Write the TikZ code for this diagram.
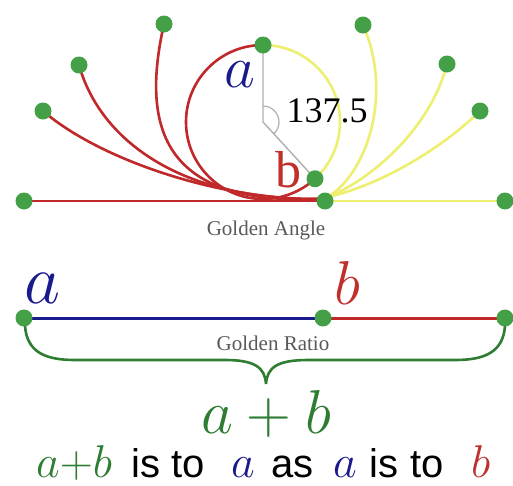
\RequirePackage{fix-cm}
\documentclass[tikz,border=0pt]{standalone}
\usepackage{fontspec}
\usetikzlibrary{calc}
\setmainfont{Liberation Serif}
\setsansfont{Liberation Sans}
\definecolor{dotgreen}{HTML}{43A047}
\definecolor{lred}{HTML}{C0282A}
\definecolor{lyellow}{HTML}{EEEE70}
\definecolor{ablue}{HTML}{1A1A8C}
\definecolor{bred}{HTML}{C0302B}
\definecolor{tgreen}{HTML}{2E7D32}
\definecolor{lgray}{HTML}{B0B0B0}
\tikzset{
  dot/.style={circle,fill=dotgreen,inner sep=0pt,minimum size=17pt},
  redline/.style={draw=lred,line width=2.6pt,line cap=round},
  yelline/.style={draw=lyellow,line width=2.6pt,line cap=round},
  grayline/.style={draw=lgray,line width=1.4pt},
  caption/.style={text=black!65,inner sep=0pt,font=\fontsize{21}{21}\selectfont},
  word/.style={anchor=base west,inner sep=0pt,font=\fontsize{40}{40}\sffamily\selectfont},
  mword/.style={anchor=base west,inner sep=0pt,font=\fontsize{46}{46}\selectfont},
}
\begin{document}
\begin{tikzpicture}[x=1pt,y=-1pt]
\useasboundingbox (0,0) rectangle (513,485);
\fill[white] (0,0) rectangle (513,485);
% coordinates
\coordinate (L0) at (24,201);
\coordinate (C0) at (325,201);
\coordinate (R0) at (505,201);
\coordinate (V) at (263,122);
\coordinate (T) at (263,45);
\coordinate (Bd) at ($(V)+(47.5:77)$);
\coordinate (l1) at (43,111);
\coordinate (l2) at (79,65);
\coordinate (l3) at (164,24);
\coordinate (r1) at (363,25);
\coordinate (r2) at (447,64);
\coordinate (r3) at (480,111);
\coordinate (rb) at (318,199);
\coordinate (yb) at (328,197);
\coordinate (A0) at (24,318);
\coordinate (M0) at (323,318);
\coordinate (E0) at (505,318);
\coordinate (bl) at (25,326);
\coordinate (br) at (505,326);
\coordinate (tip) at (266,384);
% golden angle lines
\draw[redline] (L0) -- (C0);
\draw[yelline] (C0) -- (R0);
\draw[redline] (l1) .. controls (100,160) and (220,200) .. (rb);
\draw[redline] (l2) .. controls (100,140) and (180,200) .. (rb);
\draw[redline] (l3) .. controls (140,130) and (165,205) .. (rb);
\draw[yelline] (r1) .. controls (392,90) and (370,170) .. (yb);
\draw[yelline] (r2) .. controls (430,130) and (370,180) .. (yb);
\draw[yelline] (r3) .. controls (440,150) and (380,185) .. (yb);
\draw[redline] (T) arc[start angle=270,end angle=47.5,radius=77];
\draw[yelline] (T) arc[start angle=270,end angle=407.5,radius=77];
\draw[grayline] (T) -- (V) -- (Bd);
\draw[draw=lgray,line width=1.2pt] ($(V)+(270:16)$) arc[start angle=270,end angle=407.5,radius=16];
% golden ratio lines
\draw[draw=ablue,line width=3pt] (A0) -- (M0);
\draw[draw=lred,line width=3pt] (M0) -- (E0);
\draw[draw=tgreen,line width=2.6pt] (bl) .. controls (27,352) and (45,360) .. (75,360) -- (225,360)
  .. controls (254,360) and (265,367) .. (tip)
  .. controls (267,367) and (278,360) .. (308,360) -- (455,360)
  .. controls (485,360) and (503,352) .. (br);
% dots
\foreach \p in {L0,C0,R0,T,Bd,l1,l2,l3,r1,r2,r3,A0,M0,E0}
  \node[dot] (d\p) at (\p) {};
% labels
\node[text=ablue,inner sep=0pt] (la) at (240,75) {\fontsize{60}{60}\selectfont$a$};
\node[text=bred,inner sep=0pt] (lb) at (288,170) {\fontsize{52}{52}\selectfont b};
\node[inner sep=0pt] (ang) at (327,111) {\fontsize{36}{36}\selectfont 137.5};
\node[caption] (ga) at (266,230) {Golden Angle};
\node[caption] (gr) at (273,343) {Golden Ratio};
\node[text=ablue,inner sep=0pt] (ba) at (42,288) {\fontsize{70}{70}\selectfont$a$};
\node[text=bred,inner sep=0pt] (bb) at (347,283) {\fontsize{62}{62}\selectfont$b$};
\node[text=tgreen,inner sep=0pt,anchor=base] (apb) at (266,433) {\fontsize{62}{62}\selectfont$a+b$};
% bottom sentence
\node[mword,text=tgreen] (w1) at (36,477) {$a{+}b$};
\node[word] (w2) at (131,477) {is};
\node[word] (w3) at (171,477) {to};
\node[mword,text=ablue] (w4) at (231,477) {$a$};
\node[word] (w5) at (271,477) {as};
\node[mword,text=ablue] (w6) at (333,477) {$a$};
\node[word] (w7) at (369,477) {is};
\node[word] (w8) at (410,477) {to};
\node[mword,text=bred] (w9) at (471,477) {$b$};
\end{tikzpicture}
\end{document}
